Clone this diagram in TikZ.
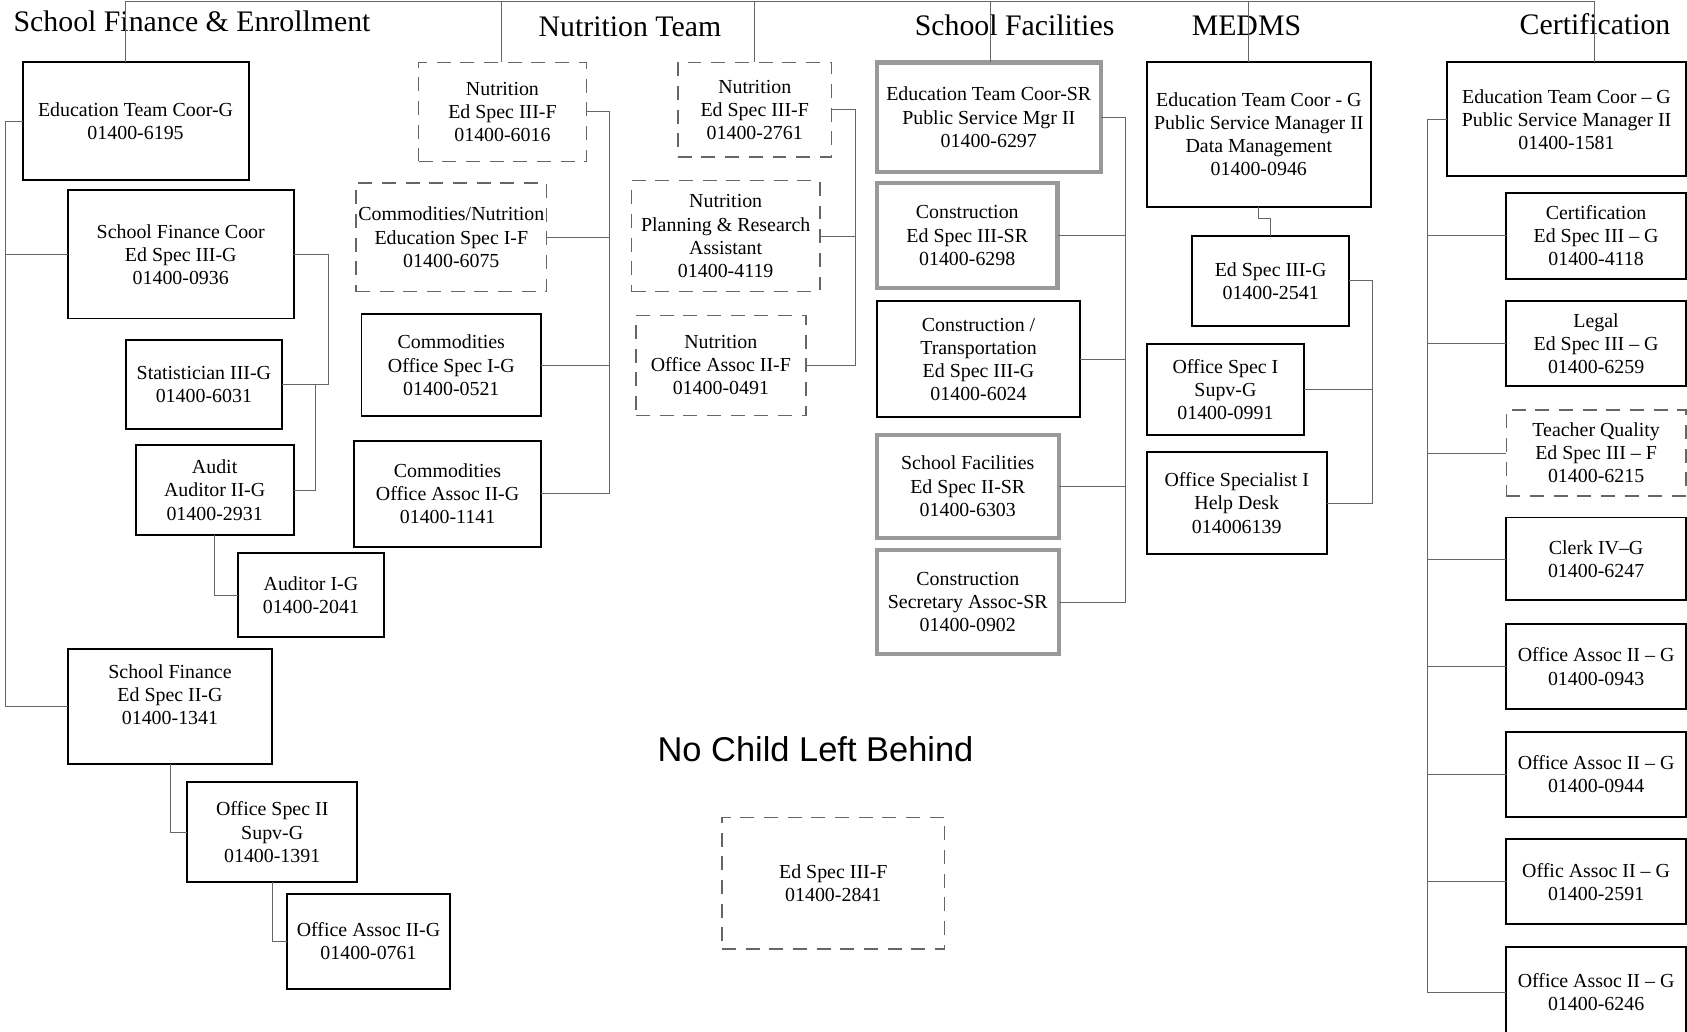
\documentclass[tikz,border=0pt]{standalone}
\usepackage{fontspec}
\setmainfont{Liberation Serif}
\newfontfamily\arialfam{Liberation Sans}
\usetikzlibrary{calc}
\newcommand\bxfont{\fontsize{18.5}{21.5}\selectfont}
\newcommand\ttlfont{\fontsize{27.7}{30}\selectfont}
\tikzset{
  bx/.style={draw=black, line width=1.8pt, inner sep=0pt, outer sep=0pt, align=center, font=\bxfont},
  dbx/.style={bx, draw=black!60, line width=1.3pt, dash pattern=on 13pt off 9pt},
  gbx/.style={bx, draw=black!40, line width=4pt},
  conn/.style={draw=black!60, line width=0.8pt},
  ttl/.style={font=\ttlfont, inner sep=0pt, anchor=base},
}
\newcommand\ob[7]{\node[#1, minimum width={(#5-#3)*1pt}, minimum height={(#6-#4)*1pt}] (#2) at ({(#3+#5)/2},{(#4+#6)/2}) {#7};}
\begin{document}
\begin{tikzpicture}[x=1pt,y=-1pt]
\useasboundingbox[fill=white] (0,0) rectangle (1568,959);
% titles
\node[ttl] (t1) at (178.5,29) {School Finance \& Enrollment};
\node[ttl] (t2) at (585.5,34) {Nutrition Team};
\node[ttl] (t3) at (943,33) {School Facilities};
\node[ttl] (t4) at (1158.5,33) {MEDMS};
\node[ttl] (t5) at (1482.5,32) {Certification};
\node[ttl, font=\arialfam\fontsize{32}{34}\selectfont] (t6) at (758,708) {No Child Left Behind};
% School Finance & Enrollment
\ob{bx}{b1}{21}{58}{231}{167}{Education Team Coor-G\\01400-6195}
\ob{bx}{b2}{63}{177}{273}{296}{School Finance Coor\\Ed Spec III-G\\01400-0936}
\ob{bx}{b3}{117}{316}{262}{399}{Statistician III-G\\01400-6031}
\ob{bx}{b4}{126}{414}{273}{497}{Audit\\Auditor II-G\\01400-2931}
\ob{bx}{b5}{221}{514}{357}{592}{Auditor I-G\\01400-2041}
\ob{bx}{b6}{63}{603}{253}{710}{School Finance\\Ed Spec II-G\\01400-1341\\\mbox{}}
\ob{bx}{b7}{174}{727}{332}{820}{Office Spec II\\Supv-G\\01400-1391}
\ob{bx}{b8}{267}{831}{418}{919}{Office Assoc II-G\\01400-0761}
% Nutrition Team
\ob{dbx}{n1}{389}{58}{545}{150}{Nutrition\\Ed Spec III-F\\01400-6016}
\ob{dbx}{n2}{331}{170}{508}{271}{Commodities/Nutrition\\Education Spec I-F\\01400-6075}
\ob{bx}{n3}{336}{292}{503}{387}{Commodities\\Office Spec I-G\\01400-0521}
\ob{bx}{n4}{329}{410}{503}{508}{Commodities\\Office Assoc II-G\\01400-1141}
\ob{dbx}{n5}{630}{58}{773}{146}{Nutrition\\Ed Spec III-F\\01400-2761}
\ob{dbx}{n6}{587}{168}{762}{271}{Nutrition\\Planning \& Research\\Assistant\\01400-4119}
\ob{dbx}{n7}{591}{293}{749}{386}{Nutrition\\Office Assoc II-F\\01400-0491}
% School Facilities
\ob{gbx}{f1}{815}{58}{1023}{160}{Education Team Coor-SR\\Public Service Mgr II\\01400-6297}
\ob{gbx}{f2}{815}{170}{983}{268}{Construction\\Ed Spec III-SR\\01400-6298}
\ob{bx}{f3}{815}{280}{1004}{388}{Construction /\\Transportation\\Ed Spec III-G\\01400-6024}
\ob{gbx}{f4}{815}{404}{984}{500}{School Facilities\\Ed Spec II-SR\\01400-6303}
\ob{gbx}{f5}{815}{511}{984}{608}{Construction\\Secretary Assoc-SR\\01400-0902}
% MEDMS
\ob{bx}{m1}{1066}{58}{1274}{192}{Education Team Coor - G\\Public Service Manager II\\Data Management\\01400-0946}
\ob{bx}{m2}{1108}{219}{1254}{303}{Ed Spec III-G\\01400-2541}
\ob{bx}{m3}{1066}{320}{1212}{404}{Office Spec I\\Supv-G\\01400-0991}
\ob{bx}{m4}{1066}{420}{1233}{515}{Office Specialist I\\Help Desk\\014006139}
% Certification
\ob{bx}{c1}{1345}{58}{1567}{164}{Education Team Coor -- G\\Public Service Manager II\\01400-1581}
\ob{bx}{c2}{1400}{179}{1567}{259}{Certification\\Ed Spec III -- G\\01400-4118}
\ob{bx}{c3}{1400}{280}{1567}{359}{Legal\\Ed Spec III -- G\\01400-6259}
\ob{dbx}{c4}{1400}{381}{1567}{461}{Teacher Quality\\Ed Spec III -- F\\01400-6215}
\ob{bx}{c5}{1400}{481}{1567}{558}{Clerk IV--G\\01400-6247}
\ob{bx}{c6}{1400}{580}{1567}{659}{Office Assoc II -- G\\01400-0943}
\ob{bx}{c7}{1400}{680}{1567}{759}{Office Assoc II -- G\\01400-0944}
\ob{bx}{c8}{1400}{780}{1567}{859}{Offic Assoc II -- G\\01400-2591}
\ob{bx}{c9}{1400}{880}{1567}{964}{Office Assoc II -- G\\01400-6246}
% No Child Left Behind
\ob{dbx}{nc}{671}{760}{878}{882}{Ed Spec III-F\\01400-2841}
% top connector line
\coordinate (tp1) at (117,1);
\coordinate (tp2) at (466,1);
\coordinate (tp3) at (701,1);
\coordinate (tp4) at (921,1);
\coordinate (tp5) at (1160,1);
\coordinate (tp6) at (1482,1);
\draw[conn, line width=1pt] (tp1) -- (tp6);
\draw[conn] (tp1) -- (tp1 |- b1.north);
\draw[conn] (tp2) -- (tp2 |- n1.north);
\draw[conn] (tp3) -- (tp3 |- n5.north);
\draw[conn] (tp4) -- (tp4 |- f1.north);
\draw[conn] (tp5) -- (tp5 |- m1.north);
\draw[conn] (tp6) -- (tp6 |- c1.north);
% School Finance connectors
\draw[conn] (b1.west) -- ++(-16,0) coordinate (lt) |- (b6.west);
\draw[conn] (b2.west) -- (b2.west -| lt);
\draw[conn] (b2.east) -- ++(32,0) |- (b3.east);
\draw[conn] (b3.east) -- ++(31,0) |- (b4.east);
\draw[conn] (b4.south) |- (b5.west);
\draw[conn] (b6.south) |- (b7.west);
\draw[conn] (b7.south) |- (b8.west);
% Nutrition connectors
\draw[conn] (n1.east) -- ++(21,0) coordinate (nt) |- (n4.east);
\draw[conn] (n2.east) -- (n2.east -| nt);
\draw[conn] (n3.east) -- (n3.east -| nt);
\draw[conn] (n5.east) -- ++(22,0) coordinate (nt2) |- (n7.east);
\draw[conn] (n6.east) -- (n6.east -| nt2);
% Facilities connectors
\draw[conn] (f1.east) -- ++(23,0) coordinate (ft) |- (f5.east);
\draw[conn] (f2.east) -- (f2.east -| ft);
\draw[conn] (f3.east) -- (f3.east -| ft);
\draw[conn] (f4.east) -- (f4.east -| ft);
% MEDMS connectors
\draw[conn] (m1.south) -- ++(0,11) -| (m2.north);
\draw[conn] (m2.east) -- ++(22,0) coordinate (mt) |- (m4.east);
\draw[conn] (m3.east) -- (m3.east -| mt);
% Certification connectors
\draw[conn] (c1.west) -- ++(-18,0) coordinate (ct) |- (c9.west);
\foreach \k in {c2,c3,c4,c5,c6,c7,c8} \draw[conn] (\k.west) -- (\k.west -| ct);
\end{tikzpicture}
\end{document}
